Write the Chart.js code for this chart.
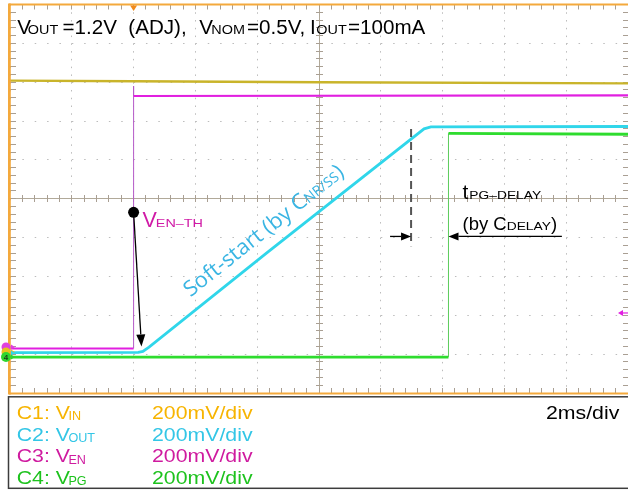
<!DOCTYPE html>
<html>
<head>
<meta charset="utf-8">
<title>Soft-start and power-good timing</title>
<script src="https://cdn.jsdelivr.net/npm/chart.js@4.4.1/dist/chart.umd.min.js"></script>
<style>
  html, body { margin: 0; padding: 0; background: #ffffff; }
  canvas { display: block; }
</style>
</head>
<body>
<canvas id="scope" width="628" height="490"></canvas>
<script>
// Time in ms relative to the enable edge, levels in volts (200 mV/div on every channel).
const vinTime   = [-4, 0, 6, 16];
const vinVolts  = [1.408, 1.405, 1.400, 1.394];

const venTime   = [-4, 0, 0, 0, 16];
const venVolts  = [0.029, 0.029, 1.380, 1.329, 1.332];

const voutTime  = [-4, 0.15, 0.30, 0.50, 4.31, 9.40, 9.62, 16];
const voutVolts = [0.008, 0.009, 0.014, 0.036, 0.521, 1.160, 1.170, 1.172];

const vpgTime   = [-4, 10.19, 10.19, 16];
const vpgVolts  = [-0.015, -0.015, 1.137, 1.132];

// Screen: 10 x 10 divisions
const timeRange  = [-4, 16];
const voltRange  = [-0.2, 1.8];
const timePerDiv = 2;
const voltPerDiv = 0.2;

// Channel ground markers (C1..C4) and the C3 trigger level, volts
const groundLevels = [0.011, 0.006, 0.037, -0.015];
const triggerLevel = 0.212;

// Annotation anchors
const enThreshold   = { t: 0, v: 0.730 };
const rampStartMark = { t: 0.255, v: 0.040 };
const softStartEndT = 8.98;
const pgMarkerSpan  = [0.556, 1.159];
const pgArrowLevel  = 0.606;
const pgArrowTails  = [8.30, 13.86];

// Text (main / subscript runs)
const titleParts = [
  ['V', 0, 17.3], ['OUT', 1, 27.8], ['=1.2V', 0, 62.5], ['(ADJ),', 0, 128.3],
  ['V', 0, 199.3], ['NOM', 1, 211.3], ['=0.5V,', 0, 247], ['I', 0, 310],
  ['OUT', 1, 316.3], ['=100mA', 0, 348]
];
const channelNames  = ['C1: V', 'C2: V', 'C3: V', 'C4: V'];
const channelSubs   = ['IN', 'OUT', 'EN', 'PG'];
const channelScales = ['200mV/div', '200mV/div', '200mV/div', '200mV/div'];
const timeScaleLabel = '2ms/div';

const SANS = '"Liberation Sans", Arial, Helvetica, sans-serif';
const OPEN = '"Open Sans", "Noto Sans", sans-serif';
const traceColors  = ['#c9b42a', '#30d6ea', '#e11fe0', '#2edc2e'];
const legendColors = ['#f7b400', '#33c6e6', '#cf1a9f', '#1dc21d'];

function series(ts, vs) { return ts.map((t, i) => ({ x: t, y: vs[i] })); }
const isVertical = c => c.p0.parsed.x === c.p1.parsed.x;
const near = (a, b) => Math.abs(a - b) < 1e-6;
const midT = (timeRange[0] + timeRange[1]) / 2;
const midV = (voltRange[0] + voltRange[1]) / 2;
function alignPx(p) { return Math.round(p - 0.5) + 0.5; }

function chunk(ctx, text, x, y, size, sx, color, family) {
  ctx.save();
  ctx.font = size + 'px ' + (family || SANS);
  ctx.fillStyle = color;
  ctx.textBaseline = 'alphabetic';
  ctx.translate(x, y);
  ctx.scale(sx, 1);
  ctx.fillText(text, 0, 0);
  const w = ctx.measureText(text).width * sx;
  ctx.restore();
  return w;
}

function arrow(ctx, x1, y1, x2, y2, len, half) {
  const ang = Math.atan2(y2 - y1, x2 - x1);
  const bx = x2 - Math.cos(ang) * len, by = y2 - Math.sin(ang) * len;
  ctx.beginPath();
  ctx.moveTo(x1, y1); ctx.lineTo(bx, by);
  ctx.stroke();
  ctx.beginPath();
  ctx.moveTo(x2, y2);
  ctx.lineTo(bx + Math.sin(ang) * half, by - Math.cos(ang) * half);
  ctx.lineTo(bx - Math.sin(ang) * half, by + Math.cos(ang) * half);
  ctx.closePath();
  ctx.fill();
}

const scopeDecor = {
  id: 'scopeDecor',
  beforeDatasetsDraw(chart) {
    const { ctx, chartArea: a, scales: { x, y } } = chart;
    const minorT = timePerDiv / 5, minorV = voltPerDiv / 5;
    const cx = alignPx(x.getPixelForValue(midT));
    const cy = alignPx(y.getPixelForValue(midV));
    ctx.save();
    ctx.strokeStyle = '#a99f93';
    ctx.lineWidth = 1;
    ctx.beginPath();
    const nT = Math.round((timeRange[1] - timeRange[0]) / minorT);
    for (let i = 1; i < nT; i++) {
      const px = alignPx(x.getPixelForValue(timeRange[0] + i * minorT));
      ctx.moveTo(px, a.top); ctx.lineTo(px, a.top + 5);
      ctx.moveTo(px, a.bottom); ctx.lineTo(px, a.bottom - 5);
      ctx.moveTo(px, cy - 3.5); ctx.lineTo(px, cy + 3.5);
    }
    const nV = Math.round((voltRange[1] - voltRange[0]) / minorV);
    for (let i = 1; i < nV; i++) {
      const py = alignPx(y.getPixelForValue(voltRange[0] + i * minorV));
      ctx.moveTo(a.left, py); ctx.lineTo(a.left + 6, py);
      ctx.moveTo(a.right, py); ctx.lineTo(a.right - 5, py);
      ctx.moveTo(cx - 3.5, py); ctx.lineTo(cx + 3.5, py);
    }
    ctx.stroke();
    ctx.restore();
  },
  afterDatasetsDraw(chart) {
    const { ctx, chartArea: a, scales: { x, y } } = chart;
    const X = t => x.getPixelForValue(t), Y = v => y.getPixelForValue(v);
    ctx.save();

    // screen frame
    ctx.strokeStyle = '#f4a93c';
    ctx.lineWidth = 2.8;
    ctx.beginPath(); ctx.moveTo(a.left - 0.6, a.top - 1); ctx.lineTo(a.left - 0.6, a.bottom + 1.5); ctx.stroke();
    ctx.lineWidth = 2;
    ctx.beginPath(); ctx.moveTo(a.left - 1, a.top); ctx.lineTo(a.right + 2, a.top); ctx.stroke();
    ctx.beginPath(); ctx.moveTo(a.left - 1, a.bottom + 0.5); ctx.lineTo(a.right + 2, a.bottom + 0.5); ctx.stroke();

    // trigger position
    ctx.fillStyle = '#f08a1c';
    ctx.beginPath();
    ctx.moveTo(X(0) - 3.5, a.top + 1); ctx.lineTo(X(0) + 3.5, a.top + 1); ctx.lineTo(X(0), a.top + 6.5);
    ctx.closePath(); ctx.fill();

    // C3 trigger level
    ctx.fillStyle = traceColors[2]; ctx.strokeStyle = traceColors[2]; ctx.lineWidth = 1.2;
    const tl = Y(triggerLevel);
    ctx.beginPath(); ctx.moveTo(a.right - 10, tl); ctx.lineTo(a.right - 5, tl - 3); ctx.lineTo(a.right - 5, tl + 3); ctx.closePath(); ctx.fill();
    ctx.beginPath(); ctx.moveTo(a.right - 5, tl); ctx.lineTo(a.right, tl); ctx.stroke();

    // channel ground markers
    const gx = a.left - 4;
    const gFill = ['#e6c21e', '#30d6ea', '#e040e0', '#2ed62e'];
    [2, 0, 1, 3].forEach(i => {
      const gy = Y(groundLevels[i]);
      ctx.fillStyle = gFill[i];
      ctx.beginPath(); ctx.moveTo(a.left + 1, gy - 2.5); ctx.lineTo(a.left + 5, gy); ctx.lineTo(a.left + 1, gy + 2.5); ctx.closePath(); ctx.fill();
      if (i !== 1) {
        ctx.beginPath(); ctx.arc(gx, gy, i === 3 ? 5 : 4.5, 0, Math.PI * 2); ctx.fill();
      }
    });
    ctx.fillStyle = '#1a3a1a';
    ctx.font = 'bold 8px ' + SANS;
    ctx.textAlign = 'center'; ctx.textBaseline = 'middle';
    ctx.fillText('4', gx, Y(groundLevels[3]) + 0.5);

    // enable threshold marker and arrow to the start of the ramp
    ctx.fillStyle = '#000'; ctx.strokeStyle = '#000'; ctx.lineWidth = 1.3;
    arrow(ctx, X(enThreshold.t), Y(enThreshold.v), X(rampStartMark.t), Y(rampStartMark.v), 12, 4.5);
    ctx.beginPath(); ctx.arc(X(enThreshold.t), Y(enThreshold.v), 5.5, 0, Math.PI * 2); ctx.fill();

    // end of soft-start marker
    ctx.strokeStyle = '#555'; ctx.lineWidth = 2;
    ctx.setLineDash([8, 5]);
    ctx.beginPath(); ctx.moveTo(X(softStartEndT), Y(pgMarkerSpan[1])); ctx.lineTo(X(softStartEndT), Y(pgMarkerSpan[0])); ctx.stroke();
    ctx.setLineDash([]);

    // power-good delay arrows
    ctx.strokeStyle = '#000'; ctx.fillStyle = '#000'; ctx.lineWidth = 1.3;
    const ay = Y(pgArrowLevel);
    arrow(ctx, X(pgArrowTails[0]), ay, X(softStartEndT), ay, 10, 4);
    arrow(ctx, X(pgArrowTails[1]), ay, X(vpgTime[1]), ay, 10, 4);
    ctx.restore();
  },
  afterDraw(chart) {
    const { ctx, scales: { x, y } } = chart;
    const X = t => x.getPixelForValue(t), Y = v => y.getPixelForValue(v);
    ctx.save();

    // title
    titleParts.forEach(([txt, sub, px]) => {
      if (sub) chunk(ctx, txt, px, 34.3, 12, 1.2, '#000');
      else chunk(ctx, txt, px, 34.3, 20, 1.03, '#000');
    });

    // enable threshold label
    const vw = chunk(ctx, 'V', 142.5, 227, 21.5, 1.0, '#d01aa6');
    chunk(ctx, 'EN\u2013TH', 142.5 + vw - 1, 227, 11.5, 1.25, '#d01aa6');

    // power-good delay label
    const tw = chunk(ctx, 't', 462.5, 199, 21, 1.0, '#000');
    chunk(ctx, 'PG\u2013DELAY', 462.5 + tw + 1, 199, 11.5, 1.2, '#000');
    let cxp = 462.5;
    cxp += chunk(ctx, '(by C', cxp, 229.5, 18.5, 1.0, '#000');
    cxp += chunk(ctx, 'DELAY', cxp, 229.5, 11.5, 1.2, '#000');
    chunk(ctx, ')', cxp, 229.5, 18.5, 1.0, '#000');

    // soft-start label along the ramp
    const p1 = { x: X(voutTime[3]), y: Y(voutVolts[3]) };
    const p2 = { x: X(voutTime[5]), y: Y(voutVolts[5]) };
    const ang = Math.atan2(p2.y - p1.y, p2.x - p1.x);
    ctx.save();
    ctx.translate(X(1.84), Y(0.292));
    ctx.rotate(ang);
    let sx = 0;
    sx += chunk(ctx, 'Soft-start (by C', sx, 0, 21.5, 1.02, '#3ab5e3', OPEN);
    sx += chunk(ctx, 'NR/SS', sx, 0, 14, 1.02, '#3ab5e3', OPEN);
    chunk(ctx, ')', sx, 0, 21.5, 1.02, '#3ab5e3', OPEN);
    ctx.restore();

    // channel legend box
    ctx.strokeStyle = '#3c3c3c'; ctx.lineWidth = 1.5;
    ctx.strokeRect(8.5, 396.8, 640, 91.5);
    const rows = [418.5, 440.5, 462, 483.5];
    channelNames.forEach((name, i) => {
      const nw = chunk(ctx, name, 16.7, rows[i], 18.5, 1.15, legendColors[i]);
      chunk(ctx, channelSubs[i], 16.7 + nw - 1.5, rows[i] + 1.5, 12, 1.05, legendColors[i]);
      chunk(ctx, channelScales[i], 152, rows[i], 18.5, 1.15, legendColors[i]);
    });
    chunk(ctx, timeScaleLabel, 546, rows[0], 18.5, 1.15, '#000');
    ctx.restore();
  }
};

const thinEdge = (col) => ({
  borderWidth: c => isVertical(c) ? 1 : undefined,
  borderColor: c => isVertical(c) ? col : undefined
});

new Chart(document.getElementById('scope'), {
  type: 'line',
  data: {
    datasets: [
      { label: 'VIN',  data: series(vinTime, vinVolts),   borderColor: traceColors[0], borderWidth: 2.4 },
      { label: 'VEN',  data: series(venTime, venVolts),   borderColor: traceColors[2], borderWidth: 2.2, segment: thinEdge('#b65ac8') },
      { label: 'VOUT', data: series(voutTime, voutVolts), borderColor: traceColors[1], borderWidth: 2.8 },
      { label: 'VPG',  data: series(vpgTime, vpgVolts),   borderColor: traceColors[3], borderWidth: 2.8, segment: thinEdge('#5ccc5c') }
    ]
  },
  options: {
    responsive: false,
    animation: false,
    devicePixelRatio: 1,
    layout: { padding: { left: 10, top: 4.5, right: 0, bottom: 97 } },
    elements: {
      point: { radius: 0, hoverRadius: 0 },
      line: { tension: 0, fill: false, borderJoinStyle: 'miter' }
    },
    plugins: { legend: { display: false }, tooltip: { enabled: false } },
    events: [],
    scales: {
      x: {
        type: 'linear', min: timeRange[0], max: timeRange[1],
        ticks: { display: false, stepSize: timePerDiv },
        grid: {
          drawTicks: false, lineWidth: 1,
          color: c => (c.tick && near(c.tick.value, midT)) ? '#b1a999' : '#bcbcbc'
        },
        border: { display: false, dash: c => (c.tick && near(c.tick.value, midT)) ? [] : [1.5, 6.27] },
        afterFit(s) { s.height = 0; }
      },
      y: {
        type: 'linear', min: voltRange[0], max: voltRange[1],
        ticks: { display: false, stepSize: voltPerDiv },
        grid: {
          drawTicks: false, lineWidth: 1,
          color: c => (c.tick && near(c.tick.value, midV)) ? '#b1a999' : '#bcbcbc'
        },
        border: { display: false, dash: c => (c.tick && near(c.tick.value, midV)) ? [] : [1.5, 10.86] },
        afterFit(s) { s.width = 0; }
      }
    }
  },
  plugins: [scopeDecor]
});
</script>
</body>
</html>
